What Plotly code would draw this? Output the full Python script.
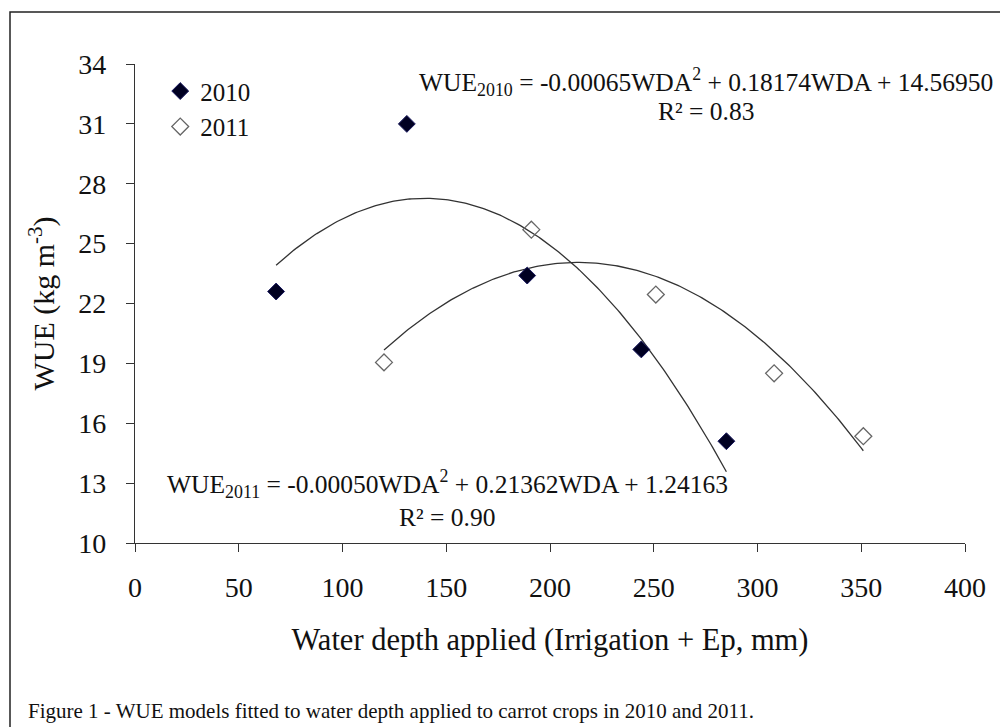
import numpy as np
import plotly.graph_objects as go

# Data
wda_2010 = [68, 131, 189, 244, 285]
wue_2010 = [22.6, 31.0, 23.4, 19.7, 15.1]
wda_2011 = [120, 191, 251, 308, 351]
wue_2011 = [19.05, 25.7, 22.45, 18.5, 15.35]

# Fitted quadratic coefficients shown on the chart (a*x^2 + b*x + c)
coef_2010 = [-0.00065, 0.18174, 14.56950]
coef_2011 = [-0.00050, 0.21362, 1.24163]

x_ticks = [0, 50, 100, 150, 200, 250, 300, 350, 400]
y_ticks = [10, 13, 16, 19, 22, 25, 28, 31, 34]

FONT = "Liberation Serif"

fig = go.Figure()

# Trend lines evaluated from the fitted polynomials over each data range
for wda, coef in [(wda_2010, coef_2010), (wda_2011, coef_2011)]:
    xs = np.linspace(min(wda), max(wda), 200)
    ys = np.polyval(coef, xs)
    fig.add_trace(go.Scatter(x=xs, y=ys, mode="lines", showlegend=False,
                             line=dict(color="#333333", width=1.3), hoverinfo="skip"))

fig.add_trace(go.Scatter(x=wda_2010, y=wue_2010, mode="markers", name="2010",
                         marker=dict(symbol="diamond", size=13, color="#000022",
                                     line=dict(color="#1a1a60", width=1))))
fig.add_trace(go.Scatter(x=wda_2011, y=wue_2011, mode="markers", name="2011",
                         marker=dict(symbol="diamond-open", size=13, color="#666666",
                                     line=dict(width=1.3))))

annots = [
    dict(x=275, y=33.1, text="WUE<sub>2010</sub> = -0.00065WDA<sup>2</sup> + 0.18174WDA + 14.56950"),
    dict(x=275, y=31.6, text="R² = 0.83"),
    dict(x=150.5, y=12.95, text="WUE<sub>2011</sub> = -0.00050WDA<sup>2</sup> + 0.21362WDA + 1.24163"),
    dict(x=150.5, y=11.3, text="R² = 0.90"),
]
for a in annots:
    fig.add_annotation(x=a["x"], y=a["y"], xref="x", yref="y", text=a["text"],
                       showarrow=False, xanchor="center", yanchor="middle",
                       font=dict(family=FONT, size=25.5, color="#111111"))

fig.add_annotation(x=-0.1313, y=-0.3507, xref="paper", yref="paper",
                   text="Figure 1 - WUE models fitted to water depth applied to carrot crops in 2010 and 2011.",
                   showarrow=False, xanchor="left", yanchor="middle",
                   font=dict(family=FONT, size=21, color="#111111"))

fig.add_shape(type="rect", xref="paper", yref="paper", x0=-0.1506, y0=-1.0, x1=2.0, y1=1.1086,
              line=dict(color="#222222", width=1.5), fillcolor="rgba(0,0,0,0)", layer="below")

axis_common = dict(showgrid=False, zeroline=False, showline=True, linecolor="#333333", linewidth=1.3,
                   ticks="outside", ticklen=8, tickcolor="#333333", tickwidth=1.3,
                   tickfont=dict(family=FONT, size=28, color="#111111"))

# The page body adds an 8px offset; size the figure so the plot area lands where the reference has it
fig.update_layout(
    width=1000, height=719,
    margin=dict(l=127, r=43, t=56, b=184),
    paper_bgcolor="white", plot_bgcolor="white",
    xaxis=dict(range=[0, 400], tickvals=x_ticks, ticklabelstandoff=11,
               title=dict(text="Water depth applied (Irrigation + Ep, mm)", standoff=26,
                          font=dict(family=FONT, size=30.5, color="#111111")),
               **axis_common),
    yaxis=dict(range=[10, 34], tickvals=y_ticks, ticklabelstandoff=14,
               title=dict(text="WUE (kg m<sup>-3</sup>)", standoff=14,
                          font=dict(family=FONT, size=30, color="#111111")),
               **axis_common),
    legend=dict(x=0.0304, y=0.991, xanchor="left", yanchor="top", bgcolor="rgba(0,0,0,0)",
                font=dict(family=FONT, size=25, color="#111111"), itemwidth=30,
                tracegroupgap=0),
)

fig.write_html("out.html")
